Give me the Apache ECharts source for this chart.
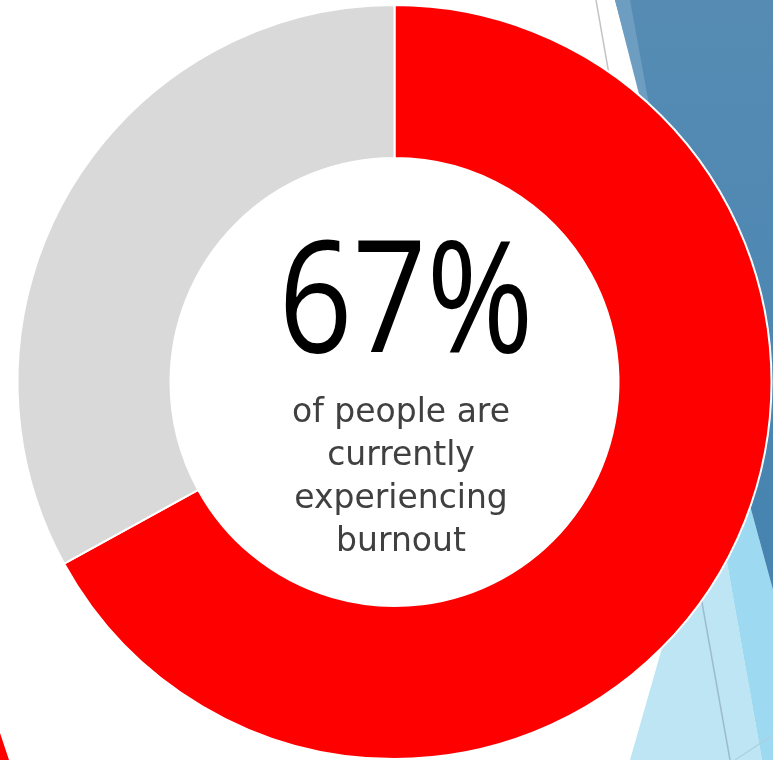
<!DOCTYPE html>
<html>
<head>
<meta charset="utf-8">
<script src="https://cdn.jsdelivr.net/npm/echarts@6/dist/echarts.min.js"></script>
<style>
  html, body { margin: 0; padding: 0; background: #ffffff; }
  #chart { width: 773px; height: 760px; }
</style>
</head>
<body>
<div id="chart"></div>
<script>
// Burnout share: one ring, red for the share affected, grey for the rest.
const categories = ['Experiencing burnout', 'Not experiencing burnout'];
const shares = [67, 33];
const sliceColors = ['#ff0000', '#d9d9d9'];
const captionLines = ['of people are', 'currently', 'experiencing', 'burnout'];

const headline = shares[0] + '%';

// Slide backdrop facets (decorative polygons behind the ring)
const backdrop = [
  { type: 'polygon', z: 0, shape: { points: [[630, 760], [680, 585], [715, 495], [762, 760]] },
    style: { fill: '#bde5f4' } },
  { type: 'polygon', z: 0, shape: { points: [[715, 495], [743, 480], [773, 590], [773, 760], [762, 760]] },
    style: { fill: '#9dd9f1' } },
  { type: 'polygon', z: 1, shape: { points: [[615, 0], [773, 0], [773, 590], [743, 480]] },
    style: { fill: { type: 'linear', x: 0, y: 0, x2: 0, y2: 1, colorStops: [
      { offset: 0, color: '#568cb4' }, { offset: 1, color: '#4683b0' }] } } },
  { type: 'polygon', z: 1, shape: { points: [[615, 0], [630, 0], [650, 110], [643, 110]] },
    style: { fill: '#6d9dc1' } },
  { type: 'line', z: 1, shape: { x1: 596, y1: 0, x2: 610, y2: 80 },
    style: { stroke: '#c4c4c4', lineWidth: 1.5 } },
  { type: 'line', z: 1, shape: { x1: 698, y1: 580, x2: 730, y2: 760 },
    style: { stroke: '#9dbccb', lineWidth: 1.5 } },
  { type: 'line', z: 1, shape: { x1: 735, y1: 760, x2: 773, y2: 735 },
    style: { stroke: '#abd0e0', lineWidth: 1.2 } },
  { type: 'polygon', z: 1, shape: { points: [[0, 733], [9, 760], [0, 760]] },
    style: { fill: '#ff0000' } }
];

const centerText = [
  { type: 'text', z: 10, x: 406, y: 308, scaleX: 0.83, scaleY: 1,
    style: { text: headline, fill: '#000000', font: '400 156px "Open Sans", sans-serif',
             textAlign: 'center', textVerticalAlign: 'middle' } },
  { type: 'text', z: 10, x: 401, y: 478,
    style: { text: captionLines.join('\n'), fill: '#404040',
             font: '400 33px "DejaVu Sans", sans-serif', lineHeight: 43,
             textAlign: 'center', textVerticalAlign: 'middle' } }
];

const chart = echarts.init(document.getElementById('chart'), null, { renderer: 'canvas' });
chart.setOption({
  animation: false,
  backgroundColor: '#ffffff',
  graphic: { elements: backdrop.concat(centerText) },
  series: [{
    type: 'pie',
    z: 5,
    center: [394.5, 382],
    radius: [224, 377],
    startAngle: 90,
    clockwise: true,
    avoidLabelOverlap: false,
    label: { show: false },
    labelLine: { show: false },
    emphasis: { disabled: true },
    itemStyle: { borderColor: '#ffffff', borderWidth: 2 },
    data: categories.map((name, i) => ({
      name: name, value: shares[i], itemStyle: { color: sliceColors[i] }
    }))
  }]
});
</script>
</body>
</html>
